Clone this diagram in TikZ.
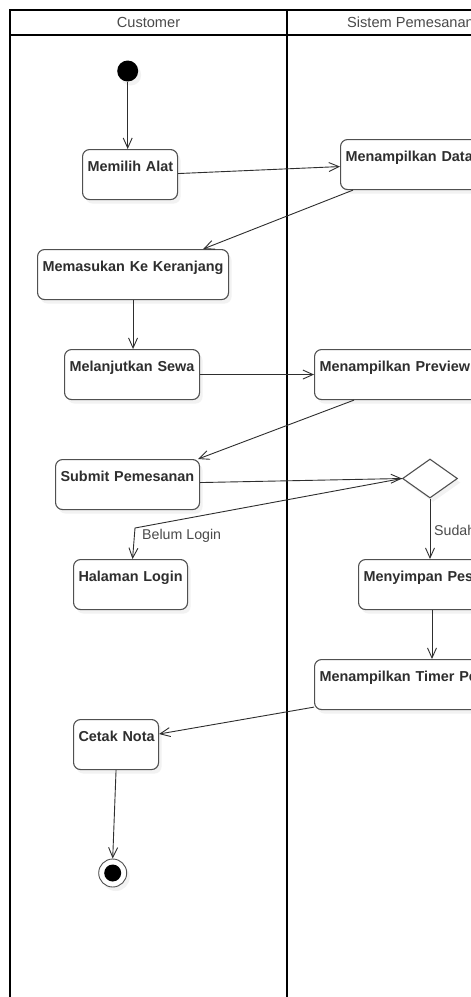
\documentclass[tikz,border=0pt]{standalone}
\usepackage{fontspec}
\setmainfont{Liberation Sans}
\usetikzlibrary{arrows.meta,shapes.geometric,shadows,calc}

\definecolor{edgegray}{HTML}{505050}
\definecolor{inkgray}{HTML}{2E2E2E}
\definecolor{headgray}{HTML}{4A4A4A}

\tikzset{
  lanefont/.style={font=\fontsize{14.6}{16}\selectfont, text=headgray},
  lanerule/.style={line width=2pt, black},
  soft/.style={drop shadow={shadow xshift=3pt, shadow yshift=-4pt, opacity=0.10}},
  activity/.style={draw=edgegray, line width=1.1pt, rounded corners=7pt, fill=white,
    soft, anchor=north west, align=left, inner xsep=5pt, inner ysep=0pt,
    text height=22pt, text depth=28pt, text=inkgray,
    font=\bfseries\fontsize{14.4}{16}\selectfont},
  flow/.style={draw=inkgray, line width=0.9pt, -{Straight Barb[length=10pt,width=9pt]}},
  guard/.style={font=\fontsize{14.2}{16}\selectfont, text=headgray, anchor=west, inner sep=0pt},
  startdot/.style={circle, fill=black, minimum size=21pt, inner sep=0pt, soft},
  enddot/.style={circle, draw=edgegray, line width=0.9pt, fill=white, minimum size=28pt, inner sep=0pt, soft,
    path picture={\fill[black] (path picture bounding box.center) circle (8.5pt);}},
  choice/.style={diamond, draw=edgegray, line width=1.1pt, fill=white, soft,
    minimum width=55pt, minimum height=39pt, inner sep=0pt, shape aspect=1.41},
}

\begin{document}
\begin{tikzpicture}[x=1pt, y=-1pt]
\useasboundingbox (0,0) rectangle (471,997);
\clip (0,0) rectangle (471,997);
\fill[white] (0,0) rectangle (471,997);

% swimlanes
\draw[lanerule] (10,1010) -- (10,9.5) -- (540,9.5);
\draw[lanerule] (10,35) -- (540,35);
\draw[lanerule] (287,9.5) -- (287,1010);
\node[lanefont] (laneA) at (148.5,22) {Customer};
\node[lanefont] (laneB) at (410.5,22) {Sistem Pemesanan};

% activities
\node[startdot] (start) at (127.7,71) {};
\node[activity, text width=85pt]  (memilih)    at (82,149)  {\mbox{Memilih Alat}};
\node[activity, text width=150pt] (data)       at (340,139) {\mbox{Menampilkan Data}};
\node[activity, text width=181pt] (keranjang)  at (37,249)  {\mbox{Memasukan Ke Keranjang}};
\node[activity, text width=125pt] (lanjut)     at (64,349)  {\mbox{Melanjutkan Sewa}};
\node[activity, text width=165pt] (preview)    at (314,349) {\mbox{Menampilkan Preview}};
\node[activity, text width=134pt] (submit)     at (55,459)  {\mbox{Submit Pemesanan}};
\node[choice] (cek) at (430,478.5) {};
\node[activity, text width=104pt] (login)      at (73,559)  {\mbox{Halaman Login}};
\node[activity, text width=150pt] (simpan)     at (358,559) {\mbox{Menyimpan Pesanan}};
\node[activity, text width=220pt] (timer)      at (314,659) {\mbox{Menampilkan Timer Pembayaran}};
\node[activity, text width=75pt]  (nota)       at (73,719)  {\mbox{Cetak Nota}};
\node[enddot] (finish) at (112.7,873) {};

% control flow
\draw[flow] (start) -- (start |- memilih.north);
\draw[flow] ($(memilih.east)+(0,-1)$) -- ($(data.west)+(0,2)$);
\draw[flow] ($(data.south west)+(13,0)$) -- ($(keranjang.north east)+(-26,0)$);
\draw[flow] (keranjang.south) -- (keranjang.south |- lanjut.north);
\draw[flow] (lanjut.east) -- (lanjut.east -| preview.west);
\draw[flow] ($(preview.south west)+(40,0)$) -- ($(submit.north east)+(-2,0)$);
\draw[flow] ($(submit.east)+(0,-2)$) -- (cek.west);
\coordinate (elbow) at (135,528);
\draw[flow] (cek.west) -- (elbow) -- ($(login.north)+(2,0)$);
\node[guard] (belum) at (142,536) {Belum Login};
\draw[flow] (cek.south) -- (cek.south |- simpan.north);
\node[guard] (sudah) at (434,532) {Sudah Login};
\coordinate (simpanout) at ($(simpan.south west)+(74,0)$);
\draw[flow] (simpanout) -- (simpanout |- timer.north);
\draw[flow] ($(timer.south west)+(0,-3)$) -- ($(nota.north east)+(0,15)$);
\draw[flow] (nota.south) -- (finish.north);
\end{tikzpicture}
\end{document}
